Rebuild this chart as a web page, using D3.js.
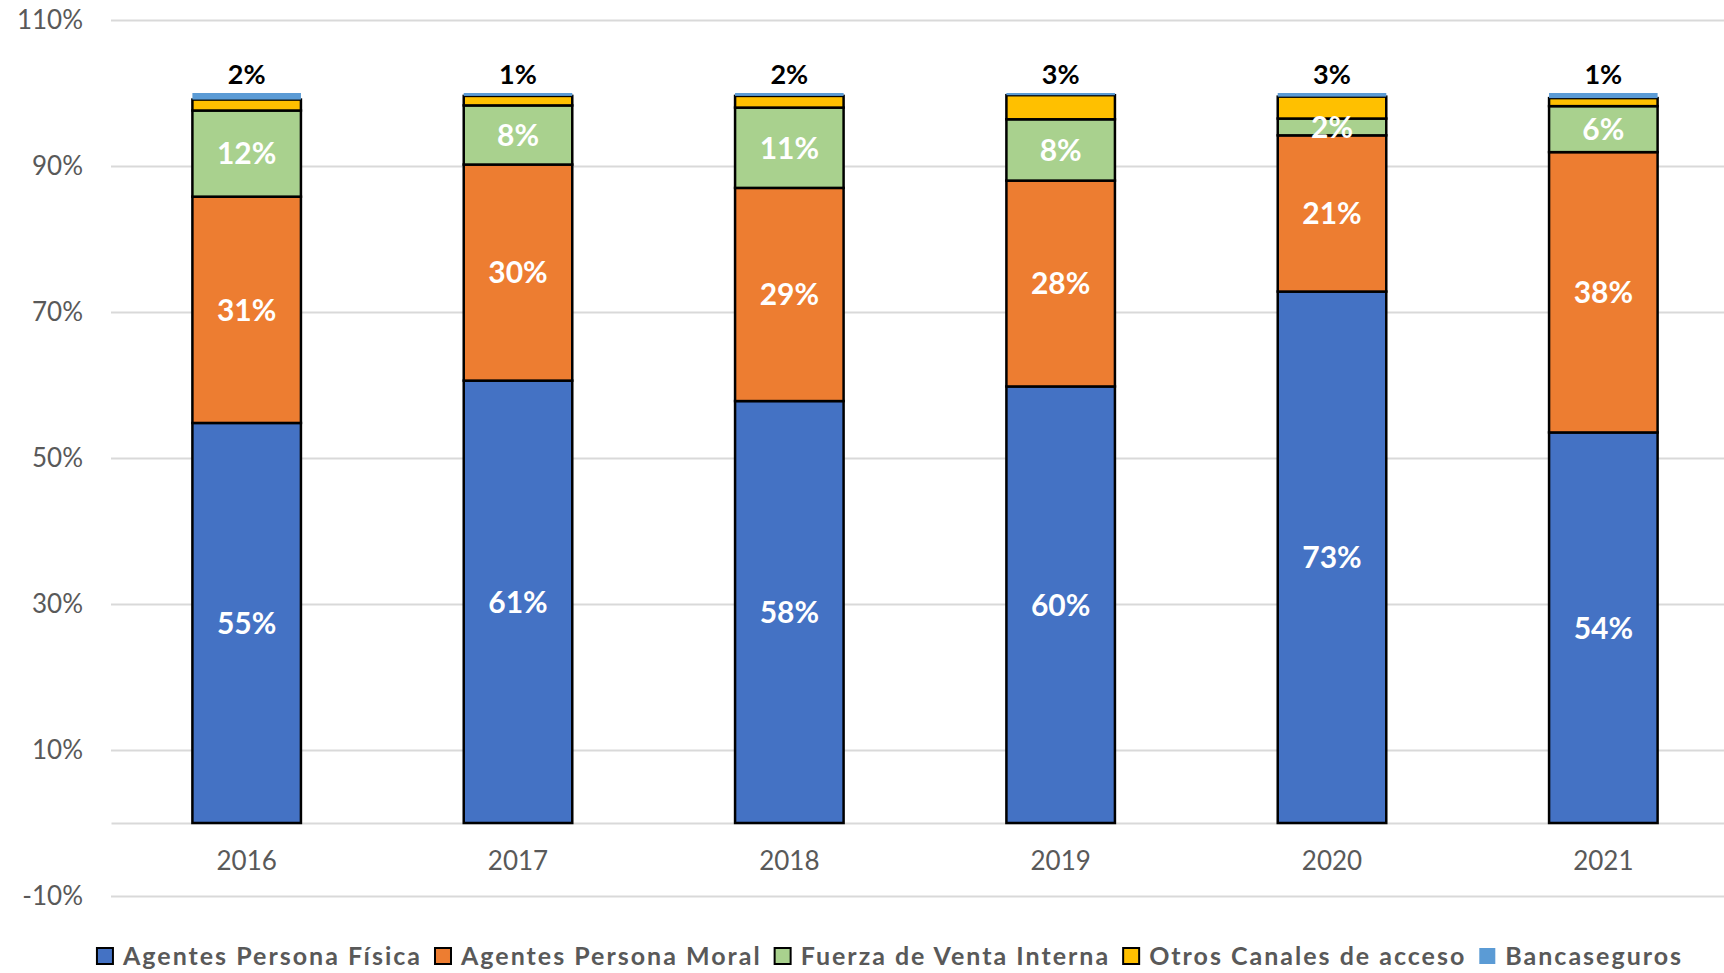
<!DOCTYPE html>
<html>
<head>
<meta charset="utf-8">
<script src="https://cdn.jsdelivr.net/npm/d3@7"></script>
<style>
  html, body { margin: 0; padding: 0; background: #ffffff; }
  svg { display: block; }
</style>
</head>
<body>
<script>
// ---- Data ----
const years = ["2016", "2017", "2018", "2019", "2020", "2021"];
const seriesNames = ["Agentes Persona Física", "Agentes Persona Moral", "Fuerza de Venta Interna", "Otros Canales de acceso", "Bancaseguros"];
const agentesFisica = [54.8, 60.6, 57.8, 59.8, 72.8, 53.5];
const agentesMoral  = [31.0, 29.6, 29.2, 28.2, 21.4, 38.4];
const fuerzaVenta   = [11.8, 8.1, 11.0, 8.4, 2.3, 6.3];
const otrosCanales  = [1.5, 1.3, 1.6, 3.3, 3.0, 1.1];
const bancaseguros  = [0.9, 0.4, 0.4, 0.3, 0.5, 0.7];
const yTicks = [-10, 10, 30, 50, 70, 90, 110];

// ---- Styles ----
const colors = ["#4472C4", "#ED7D31", "#A9D18E", "#FFC000", "#5B9BD5"];
const W = 1724, H = 973;
const plotLeft = 111, plotRight = 1739, gridRight = 1724, plotTop = 20, plotBottom = 896;

const seriesValues = [agentesFisica, agentesMoral, fuerzaVenta, otrosCanales, bancaseguros];
const table = years.map((yr, i) => {
  const row = { year: yr };
  seriesNames.forEach((s, k) => row[s] = seriesValues[k][i]);
  return row;
});

const svg = d3.select("body").append("svg").attr("width", W).attr("height", H);

const x = d3.scaleBand().domain(years).range([plotLeft, plotRight])
  .paddingInner(0.6).paddingOuter(0.3);
const y = d3.scaleLinear().domain([-10, 110]).range([plotBottom, plotTop]);

// Y axis with gridlines
const yAxis = svg.append("g").attr("transform", `translate(${plotLeft},0)`)
  .call(d3.axisLeft(y).tickValues(yTicks).tickFormat(d => d + "%")
    .tickSize(-(gridRight - plotLeft)).tickPadding(28));
yAxis.select(".domain").remove();
yAxis.selectAll(".tick line").attr("stroke", "#d9d9d9").attr("stroke-width", 2);
yAxis.selectAll(".tick text").attr("fill", "#595959")
  .style("font-family", "Lato, 'Open Sans', sans-serif").style("font-size", "26px");

// X axis at zero
const xAxis = svg.append("g").attr("transform", `translate(0,${y(0)})`)
  .call(d3.axisBottom(x).tickSize(0).tickSizeOuter(0).tickPadding(29));
xAxis.select(".domain").attr("stroke", "#d9d9d9").attr("stroke-width", 2);
xAxis.selectAll(".tick text").attr("fill", "#595959")
  .style("font-family", "Lato, 'Open Sans', sans-serif").style("font-size", "26px");

// Stacked bars
const stack = d3.stack().keys(seriesNames);
const stacked = stack(table);

const layers = svg.append("g").selectAll("g.layer").data(stacked).join("g")
  .attr("class", "layer")
  .attr("fill", (d, i) => colors[i]);

layers.selectAll("rect").data(d => d.map(p => ({ p, key: d.key, idx: d.index }))).join("rect")
  .attr("x", d => x(d.p.data.year))
  .attr("width", x.bandwidth())
  .attr("y", d => y(d.p[1]))
  .attr("height", d => y(d.p[0]) - y(d.p[1]))
  .attr("stroke", d => d.idx === 4 ? "none" : "#000")
  .attr("stroke-width", 2.5);

// Data labels inside (first three series)
const labelG = svg.append("g");
stacked.slice(0, 3).forEach(layer => {
  labelG.selectAll(null).data(layer).join("text")
    .attr("x", p => x(p.data.year) + x.bandwidth() / 2)
    .attr("y", p => (y(p[0]) + y(p[1])) / 2)
    .attr("dy", "0.36em")
    .attr("text-anchor", "middle")
    .attr("fill", "#ffffff")
    .style("font-family", "Lato, sans-serif")
    .style("font-weight", 700)
    .style("font-size", "30px")
    .text(p => Math.round(p[1] - p[0]) + "%");
});

// Otros Canales labels above bars
const otrosLayer = stacked[3];
const topLayer = stacked[4];
labelG.selectAll(null).data(otrosLayer).join("text")
  .attr("x", p => x(p.data.year) + x.bandwidth() / 2)
  .attr("y", (p, i) => y(topLayer[i][1]) - 19)
  .attr("dy", "0.36em")
  .attr("text-anchor", "middle")
  .attr("fill", "#000000")
  .style("font-family", "Lato, sans-serif")
  .style("font-weight", 700)
  .style("font-size", "27px")
  .text(p => Math.round(p[1] - p[0]) + "%");

// Legend
const legend = svg.append("g");
const legendY = 956;
const sw = 16, gapSw = 10, gapItem = 13;
let cx = 0;
seriesNames.forEach((name, i) => {
  const g = legend.append("g");
  g.append("rect").attr("x", 0).attr("y", legendY - sw / 2).attr("width", sw).attr("height", sw)
    .attr("fill", colors[i])
    .attr("stroke", i === 4 ? "none" : "#000").attr("stroke-width", 2);
  const t = g.append("text").attr("x", sw + gapSw).attr("y", legendY).attr("dy", "0.35em")
    .attr("fill", "#595959")
    .style("font-family", "Lato, sans-serif").style("font-weight", 700).style("font-size", "25px")
    .style("letter-spacing", "2px")
    .text(name);
  const w = sw + gapSw + t.node().getComputedTextLength();
  g.attr("transform", `translate(${cx},0)`);
  cx += w + gapItem;
});
const totalW = cx - gapItem;
legend.attr("transform", `translate(${890 - totalW / 2},0)`);
</script>
</body>
</html>
